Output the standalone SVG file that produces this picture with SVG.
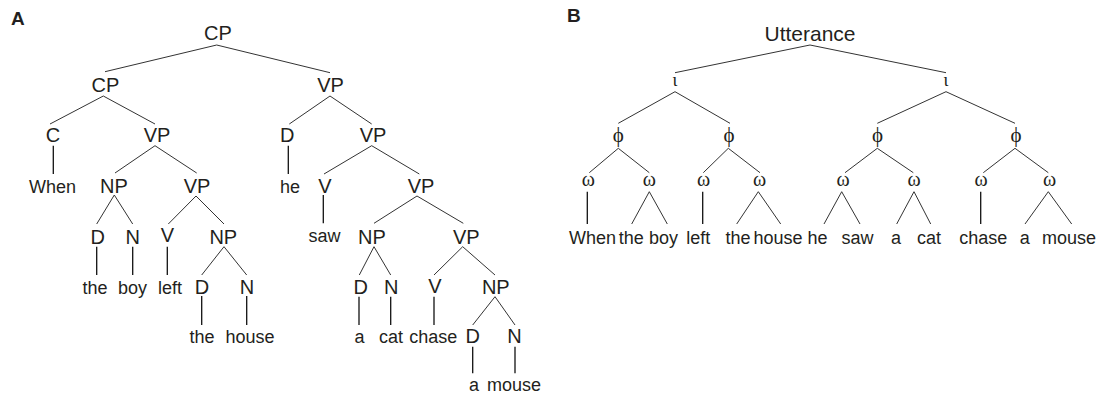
<svg xmlns="http://www.w3.org/2000/svg" width="1108" height="393" viewBox="0 0 1108 393">
<style>
.cat{font-family:"Liberation Sans",Arial,sans-serif;font-size:20px;fill:#231f20;text-anchor:middle}
.w{font-family:"Liberation Sans",Arial,sans-serif;font-size:18px;fill:#231f20;text-anchor:middle}
.g{font-family:"Liberation Serif","Times New Roman",serif;font-size:18px;fill:#231f20;text-anchor:middle}
.om{font-family:"Liberation Serif","Times New Roman",serif;font-size:20px;fill:#231f20;text-anchor:middle}
.ph{font-family:"Liberation Serif","DejaVu Serif","Times New Roman",serif;font-size:21px;fill:#231f20;text-anchor:middle}
.lab{font-family:"Liberation Sans",Arial,sans-serif;font-size:19px;font-weight:bold;fill:#231f20}
.e line,.e polyline{stroke:#333;stroke-width:1;fill:none}
.e .v{stroke:#111;stroke-width:1.3}
</style>
<rect width="1108" height="393" fill="#fff"/>
<text class="lab" x="11" y="25">A</text>
<text class="lab" x="567" y="22">B</text>
<g id="treeA">
<g id="a_cp0"><text class="cat" x="218" y="40">CP</text></g>
<g id="a_cp1"><text class="cat" x="105.5" y="92">CP</text></g>
<g id="a_vp1"><text class="cat" x="330.5" y="92">VP</text></g>
<g id="a_c"><text class="cat" x="53" y="142">C</text></g>
<g id="a_vp2"><text class="cat" x="157" y="142">VP</text></g>
<g id="a_when"><text class="w" x="52.5" y="193">When</text></g>
<g id="a_np1"><text class="cat" x="114" y="193">NP</text></g>
<g id="a_vp3"><text class="cat" x="197" y="193">VP</text></g>
<g id="a_d1"><text class="cat" x="97.7" y="244">D</text></g>
<g id="a_n1"><text class="cat" x="132.7" y="244">N</text></g>
<g id="a_v1"><text class="cat" x="167.5" y="242">V</text></g>
<g id="a_np2"><text class="cat" x="223.3" y="244">NP</text></g>
<g id="a_the1"><text class="w" x="95" y="294">the</text></g>
<g id="a_boy"><text class="w" x="132.5" y="294">boy</text></g>
<g id="a_left"><text class="w" x="170" y="294">left</text></g>
<g id="a_d2"><text class="cat" x="202" y="294">D</text></g>
<g id="a_n2"><text class="cat" x="247" y="294">N</text></g>
<g id="a_the2"><text class="w" x="202" y="342.7">the</text></g>
<g id="a_house"><text class="w" x="250" y="342.7">house</text></g>
<g id="a_d3"><text class="cat" x="287.3" y="142">D</text></g>
<g id="a_vp4"><text class="cat" x="373" y="142">VP</text></g>
<g id="a_he"><text class="w" x="290" y="193">he</text></g>
<g id="a_v2"><text class="cat" x="325" y="193">V</text></g>
<g id="a_vp5"><text class="cat" x="421" y="193">VP</text></g>
<g id="a_saw"><text class="w" x="324.5" y="241.7">saw</text></g>
<g id="a_np3"><text class="cat" x="372" y="244">NP</text></g>
<g id="a_vp6"><text class="cat" x="466.3" y="244">VP</text></g>
<g id="a_d4"><text class="cat" x="360.7" y="294">D</text></g>
<g id="a_n3"><text class="cat" x="391.3" y="294">N</text></g>
<g id="a_v3"><text class="cat" x="435" y="293">V</text></g>
<g id="a_np4"><text class="cat" x="495.8" y="294">NP</text></g>
<g id="a_a1"><text class="w" x="359.5" y="342.7">a</text></g>
<g id="a_cat"><text class="w" x="391" y="342.7">cat</text></g>
<g id="a_chase"><text class="w" x="433.3" y="342.7">chase</text></g>
<g id="a_d5"><text class="cat" x="472.7" y="342.7">D</text></g>
<g id="a_n4"><text class="cat" x="514.5" y="342.7">N</text></g>
<g id="a_a2"><text class="w" x="474" y="390.5">a</text></g>
<g id="a_mouse"><text class="w" x="514" y="390.5">mouse</text></g>
</g>
<g id="treeB">
<g id="b_utt"><text class="cat" x="810" y="40.7" style="font-size:21px">Utterance</text></g>
<g id="b_i1"><text class="g" x="675" y="86">ι</text></g>
<g id="b_i2"><text class="g" x="946" y="86">ι</text></g>
<g id="b_p1"><text class="ph" x="618.3" y="141.5">ϕ</text></g>
<g id="b_p2"><text class="ph" x="729" y="141.5">ϕ</text></g>
<g id="b_p3"><text class="ph" x="877.5" y="141.5">ϕ</text></g>
<g id="b_p4"><text class="ph" x="1016" y="141.5">ϕ</text></g>
<g id="b_w1"><text class="om" x="588.3" y="186">ω</text></g>
<g id="b_w2"><text class="om" x="649.3" y="186">ω</text></g>
<g id="b_w3"><text class="om" x="703.7" y="186">ω</text></g>
<g id="b_w4"><text class="om" x="759.7" y="186">ω</text></g>
<g id="b_w5"><text class="om" x="843" y="186">ω</text></g>
<g id="b_w6"><text class="om" x="914" y="186">ω</text></g>
<g id="b_w7"><text class="om" x="981" y="186">ω</text></g>
<g id="b_w8"><text class="om" x="1049.7" y="186">ω</text></g>
<g id="b_words">
<text class="w" x="592.5" y="244">When</text>
<text class="w" x="631.3" y="244">the</text>
<text class="w" x="663.5" y="244">boy</text>
<text class="w" x="698.3" y="244">left</text>
<text class="w" x="738" y="244">the</text>
<text class="w" x="778" y="244">house</text>
<text class="w" x="817.5" y="244">he</text>
<text class="w" x="857.5" y="244">saw</text>
<text class="w" x="896" y="244">a</text>
<text class="w" x="929" y="244">cat</text>
<text class="w" x="983.3" y="244">chase</text>
<text class="w" x="1024.7" y="244">a</text>
<text class="w" x="1069" y="244">mouse</text>
</g>
</g>
<g id="connectors" class="e">
<line x1="216.7" y1="45" x2="105" y2="71.7"/>
<line x1="216.7" y1="45" x2="330" y2="72.7"/>
<line x1="103.3" y1="96" x2="50" y2="124"/>
<line x1="103.3" y1="96" x2="155" y2="124"/>
<line class="v" x1="53.3" y1="145.7" x2="53.3" y2="174"/>
<line x1="155" y1="145.7" x2="115" y2="173"/>
<line x1="155" y1="145.7" x2="196.7" y2="173"/>
<line x1="114.3" y1="195" x2="96.7" y2="224"/>
<line x1="114.3" y1="195" x2="132.7" y2="224"/>
<line class="v" x1="96.7" y1="246.7" x2="96.7" y2="275"/>
<line class="v" x1="132.7" y1="246.7" x2="132.7" y2="275"/>
<line x1="196" y1="196" x2="168.3" y2="224"/>
<line x1="196" y1="196" x2="224" y2="224"/>
<line class="v" x1="167.3" y1="246.7" x2="167.3" y2="275"/>
<line x1="224" y1="246.7" x2="201.7" y2="275"/>
<line x1="224" y1="246.7" x2="246.7" y2="275"/>
<line class="v" x1="201.7" y1="296" x2="201.7" y2="325"/>
<line class="v" x1="246.7" y1="296" x2="246.7" y2="325"/>
<line x1="330" y1="96" x2="289.3" y2="124"/>
<line x1="330" y1="96" x2="371.7" y2="124"/>
<line class="v" x1="288.3" y1="145.7" x2="288.3" y2="174"/>
<line x1="371.7" y1="145.7" x2="324" y2="174"/>
<line x1="371.7" y1="145.7" x2="419.3" y2="174"/>
<line class="v" x1="323.3" y1="195" x2="323.3" y2="223.3"/>
<line x1="417" y1="196" x2="374" y2="223.3"/>
<line x1="417" y1="196" x2="463.3" y2="223.3"/>
<line x1="374" y1="246.7" x2="359.3" y2="275"/>
<line x1="374" y1="246.7" x2="390.7" y2="275"/>
<line class="v" x1="359" y1="296.7" x2="359" y2="325"/>
<line class="v" x1="390.7" y1="296.7" x2="390.7" y2="325"/>
<line x1="462.7" y1="246.7" x2="434" y2="275"/>
<line x1="462.7" y1="246.7" x2="495" y2="275"/>
<line class="v" x1="434" y1="296.7" x2="434" y2="325"/>
<line x1="495" y1="296.7" x2="472.7" y2="325"/>
<line x1="495" y1="296.7" x2="515" y2="325"/>
<line class="v" x1="472.7" y1="346.7" x2="472.7" y2="373.3"/>
<line class="v" x1="515" y1="346.7" x2="515" y2="373.3"/>
<line x1="810" y1="45" x2="675" y2="72.7"/>
<line x1="810" y1="45" x2="946" y2="72.7"/>
<line x1="675" y1="91.7" x2="618.3" y2="123.3"/>
<line x1="675" y1="91.7" x2="730" y2="123.3"/>
<line x1="946" y1="91.7" x2="877.3" y2="123.3"/>
<line x1="946" y1="91.7" x2="1015" y2="123.3"/>
<line x1="618.3" y1="148.3" x2="589.3" y2="172.7"/>
<line x1="618.3" y1="148.3" x2="649.3" y2="172.7"/>
<line x1="728.3" y1="148.3" x2="703.3" y2="172.7"/>
<line x1="728.3" y1="148.3" x2="760" y2="172.7"/>
<line x1="877.3" y1="148.3" x2="845" y2="172.7"/>
<line x1="877.3" y1="148.3" x2="913.3" y2="172.7"/>
<line x1="1015" y1="148.3" x2="983.3" y2="172.7"/>
<line x1="1015" y1="148.3" x2="1048.3" y2="172.7"/>
<line class="v" x1="587.3" y1="191.7" x2="587.3" y2="224"/>
<polyline points="631.7,224 649.3,191.7 667.3,224"/>
<line class="v" x1="702.7" y1="191.7" x2="702.7" y2="224"/>
<polyline points="736.7,224 758.3,191.7 780.7,224"/>
<polyline points="824,224 841.7,191.7 860,224"/>
<polyline points="896.7,224 914,191.7 930.7,224"/>
<line class="v" x1="980.7" y1="191.7" x2="980.7" y2="224"/>
<polyline points="1025,224 1048.3,191.7 1071.7,224"/>
</g>
</svg>
